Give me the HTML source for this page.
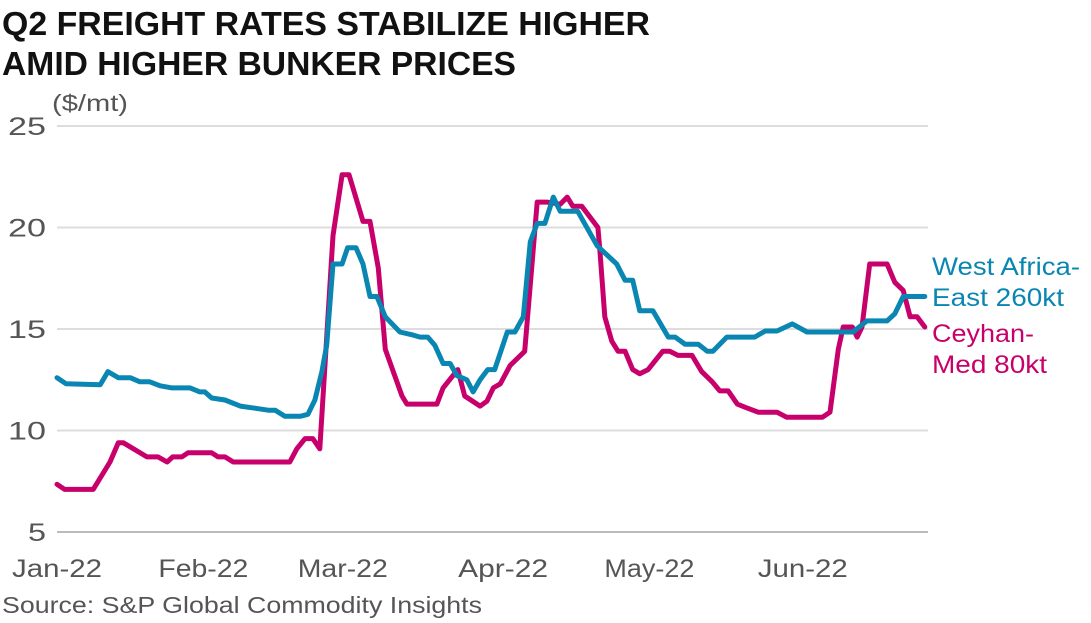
<!DOCTYPE html>
<html><head><meta charset="utf-8"><style>
html,body{margin:0;padding:0;background:#fff;}
svg{display:block;font-family:"Liberation Sans",sans-serif;}
</style></head><body>
<svg id="chart" width="1091" height="623" viewBox="0 0 1091 623" xmlns="http://www.w3.org/2000/svg">
<text x="2" y="35" font-size="33" font-weight="bold" fill="#111" textLength="648" lengthAdjust="spacingAndGlyphs">Q2 FREIGHT RATES STABILIZE HIGHER</text>
<text x="2" y="75" font-size="33" font-weight="bold" fill="#111" textLength="514" lengthAdjust="spacingAndGlyphs">AMID HIGHER BUNKER PRICES</text>
<text x="52" y="111" font-size="23" fill="#555" textLength="76" lengthAdjust="spacingAndGlyphs">($/mt)</text>
<g id="grid"></g><g id="yticks"></g><g id="xticks"></g><g id="lines"></g>
<text fill="#0a86b2" font-size="25"><tspan x="932" y="275" textLength="148" lengthAdjust="spacingAndGlyphs">West Africa-</tspan><tspan x="932" y="306" textLength="132" lengthAdjust="spacingAndGlyphs">East 260kt</tspan></text>
<text fill="#c8006b" font-size="25"><tspan x="932" y="342" textLength="102" lengthAdjust="spacingAndGlyphs">Ceyhan-</tspan><tspan x="932" y="373" textLength="115" lengthAdjust="spacingAndGlyphs">Med 80kt</tspan></text>
<text x="2" y="613" font-size="23" fill="#555" textLength="480" lengthAdjust="spacingAndGlyphs">Source: S&amp;P Global Commodity Insights</text>
</svg>
<script>
const yTicks=[5,10,15,20,25];
const xTickLabels=["Jan-22","Feb-22","Mar-22","Apr-22","May-22","Jun-22"];
const xTickIdx=[0,21,41,64,85,107];
const waIdx=[0,1.3,6.2,7.3,8.8,10.5,11.9,13.3,14.8,16.5,19.1,20.5,21.2,22.2,24.1,26.3,28.4,30.3,31.3,32.7,34.9,36,37,38,38.7,39.6,40.9,41.7,42.9,43.9,44.9,45.9,47.1,49.2,51.1,52.1,53.2,54.2,55.4,56.4,57.4,58.8,59.7,60.7,61.8,62.8,64.6,65.7,66.9,67.9,68.9,70,71.2,72.2,74.7,77.5,80.3,81.5,82.6,83.6,85.5,87.7,88.7,90.1,92,93.3,94.1,96.1,100.1,101.6,103.3,105.5,107.6,114.2,116.2,119.1,120.2,121.4,124.5];
const waVal=[12.6,12.3,12.25,12.9,12.6,12.6,12.4,12.4,12.2,12.1,12.1,11.9,11.9,11.6,11.5,11.2,11.1,11,11,10.7,10.7,10.8,11.5,12.9,14.2,18.2,18.2,19,19,18.2,16.6,16.6,15.6,14.85,14.7,14.6,14.6,14.2,13.3,13.3,12.7,12.5,11.9,12.5,13,13,14.85,14.85,15.6,19.3,20.2,20.2,21.5,20.8,20.8,19.1,18.2,17.4,17.4,15.9,15.9,14.6,14.6,14.25,14.25,13.9,13.9,14.6,14.6,14.9,14.9,15.25,14.85,14.85,15.4,15.4,15.75,16.6,16.6];
const cmIdx=[0,1.1,5.2,7.6,8.8,9.5,12.9,14.5,15.8,16.6,17.9,18.8,22.2,23.1,24.1,25.3,33.4,34.4,35.6,36.7,37.7,39.6,40.9,41.9,43.9,44.9,46.1,47.1,49.5,50.2,54.5,55.4,57.5,58.5,60.7,61.7,62.6,63.6,65,67.1,68.9,70.3,72.2,73.2,74,75.3,77.6,77.9,78.6,79.6,80.5,81.5,82.6,83.6,84.8,86.9,87.9,89.1,91.1,92.5,94,95.1,96.3,97.6,98.7,100.6,103.3,104.7,109.8,110.9,112.1,112.8,114.1,114.8,115.5,116.6,119.1,120.2,121.4,122.4,123.4,124.5];
const cmVal=[7.35,7.1,7.1,8.45,9.4,9.4,8.7,8.7,8.45,8.7,8.7,8.9,8.9,8.7,8.7,8.45,8.45,9.1,9.6,9.6,9.1,19.6,22.6,22.6,20.3,20.3,18,14,11.7,11.3,11.3,12.1,13,11.7,11.2,11.45,12.1,12.3,13.2,13.9,21.25,21.25,21.15,21.5,21.05,21.05,20,18.8,15.6,14.4,13.9,13.9,13,12.8,13,13.9,13.9,13.7,13.7,12.9,12.4,11.95,11.95,11.3,11.15,10.9,10.9,10.65,10.65,10.9,14,15.1,15.1,14.6,15.1,18.2,18.2,17.3,16.9,15.6,15.6,15.1];
const NS="http://www.w3.org/2000/svg";
const X=i=>57+i*6.97;
const Y=v=>532-(v-5)*20.3;
function mk(tag,attrs,parent){const e=document.createElementNS(NS,tag);for(const k in attrs)e.setAttribute(k,attrs[k]);parent.appendChild(e);return e;}
const grid=document.getElementById('grid'),yt=document.getElementById('yticks'),xt=document.getElementById('xticks'),lines=document.getElementById('lines');
yTicks.forEach(v=>{
  const l=mk('line',{x1:57,x2:928,y1:Y(v),y2:Y(v),stroke:v===5?'#bbb':'#ddd','stroke-width':2},grid);
  
  
  const w=String(v).length===1?18:38;
  const t=mk('text',{x:46-w,y:Y(v)+9,'font-size':25,fill:'#555',textLength:w,lengthAdjust:'spacingAndGlyphs'},yt);
  t.textContent=v;
  
  
});
xTickLabels.forEach((s,i)=>{
  const t=mk('text',{x:X(xTickIdx[i])-45,y:577,'font-size':25,fill:'#555',textLength:90,lengthAdjust:'spacingAndGlyphs'},xt);
  t.textContent=s;
  
  
});
function series(idx,val,color,name){
  const d=idx.map((x,i)=>(i?'L':'M')+X(x).toFixed(1)+' '+Y(val[i]).toFixed(1)).join(' ');
  const p=mk('path',{d:d,fill:'none',stroke:color,'stroke-width':5,'stroke-linejoin':'round','stroke-linecap':'round'},lines);
  
  
}
series(cmIdx,cmVal,'#c8006b','ceyhan-med-line');
series(waIdx,waVal,'#0a86b2','west-africa-east-line');
</script>
</body></html>
